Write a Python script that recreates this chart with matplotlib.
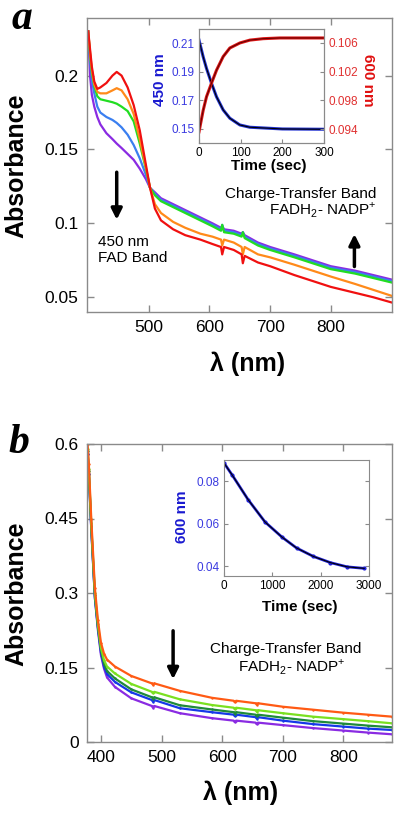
import matplotlib

matplotlib.use("Agg")

import matplotlib.pyplot as plt

plt.rcParams["font.family"] = ["Liberation Sans", "DejaVu Sans"]
plt.rcParams["mathtext.fontset"] = "custom"
plt.rcParams["mathtext.rm"] = "Liberation Sans"

# ---- panel a: spectra during reduction (absorbance vs wavelength) ----
wl_a = [400, 403, 406, 410, 415, 420, 430, 440, 447, 455, 465, 475, 485, 495, 502,
        510, 520, 540, 560, 585, 605, 619, 621, 624, 640, 653, 655, 658, 680, 700,
        740, 770, 800, 840, 870, 900]
abs_red = [0.230, 0.218, 0.206, 0.196, 0.191, 0.192, 0.195, 0.200, 0.2025, 0.200, 0.192, 0.180, 0.163, 0.140, 0.124,
           0.110, 0.102, 0.096, 0.092, 0.089, 0.086, 0.084, 0.079, 0.084, 0.082, 0.079, 0.073, 0.078, 0.0735, 0.071,
           0.065, 0.061, 0.057, 0.053, 0.050, 0.0465]
abs_orange = [0.230, 0.216, 0.204, 0.194, 0.189, 0.188, 0.188, 0.190, 0.1915, 0.190, 0.184, 0.174, 0.157, 0.138, 0.124,
              0.113, 0.107, 0.101, 0.097, 0.093, 0.091, 0.089, 0.085, 0.089, 0.087, 0.084, 0.079, 0.084, 0.079, 0.077,
              0.072, 0.068, 0.064, 0.059, 0.055, 0.051]
abs_green = [0.230, 0.214, 0.202, 0.193, 0.186, 0.184, 0.183, 0.182, 0.181, 0.179, 0.176, 0.169, 0.154, 0.137, 0.124,
             0.119, 0.115, 0.111, 0.107, 0.102, 0.098, 0.095, 0.099, 0.094, 0.093, 0.091, 0.094, 0.090, 0.085, 0.082,
             0.077, 0.073, 0.069, 0.066, 0.063, 0.060]
abs_blue = [0.230, 0.210, 0.197, 0.188, 0.179, 0.175, 0.172, 0.170, 0.168, 0.165, 0.160, 0.153, 0.144, 0.133, 0.124,
            0.120, 0.116, 0.112, 0.108, 0.103, 0.099, 0.096, 0.099, 0.095, 0.094, 0.092, 0.094, 0.091, 0.086, 0.083,
            0.078, 0.074, 0.070, 0.067, 0.064, 0.061]
abs_purple = [0.230, 0.200, 0.187, 0.179, 0.172, 0.167, 0.161, 0.157, 0.154, 0.151, 0.147, 0.143, 0.137, 0.130, 0.124,
              0.121, 0.117, 0.113, 0.109, 0.104, 0.100, 0.097, 0.098, 0.096, 0.095, 0.093, 0.094, 0.092, 0.087, 0.084,
              0.079, 0.075, 0.071, 0.068, 0.065, 0.062]

# inset a: kinetics at 450 nm (left axis) and 600 nm (right axis)
t_450 = [0, 10, 18, 30, 42, 58, 74, 98, 122, 200, 298]
abs_450 = [0.2121, 0.2004, 0.1923, 0.1819, 0.1725, 0.1633, 0.1575, 0.1528, 0.1512, 0.1500, 0.1498]
t_600 = [0, 10, 18, 30, 42, 58, 74, 98, 122, 154, 194, 298]
abs_600 = [0.0936, 0.0966, 0.0985, 0.1004, 0.1022, 0.1041, 0.1053, 0.1060, 0.1064, 0.1066, 0.1067, 0.1067]

# ---- panel b: spectra during re-oxidation ----
wl_b = [378, 380, 384, 390, 395, 400, 405, 410, 423, 450, 484, 486, 488, 530, 583,
        619, 621, 623, 655, 657, 659, 700, 750, 800, 840, 880]
absb_orange = [0.600, 0.560, 0.450, 0.310, 0.245, 0.200, 0.178, 0.166, 0.152, 0.133, 0.118, 0.115, 0.118, 0.103, 0.089,
               0.083, 0.080, 0.083, 0.078, 0.075, 0.078, 0.071, 0.065, 0.059, 0.055, 0.051]
absb_lgreen = [0.590, 0.550, 0.440, 0.300, 0.237, 0.190, 0.165, 0.152, 0.138, 0.117, 0.101, 0.098, 0.101, 0.086, 0.0745,
               0.069, 0.066, 0.069, 0.064, 0.061, 0.064, 0.058, 0.051, 0.046, 0.042, 0.0376]
absb_dgreen = [0.585, 0.545, 0.435, 0.295, 0.232, 0.185, 0.158, 0.143, 0.128, 0.106, 0.090, 0.087, 0.090, 0.074, 0.0655,
               0.060, 0.057, 0.060, 0.055, 0.052, 0.055, 0.049, 0.042, 0.037, 0.033, 0.0296]
absb_blue = [0.580, 0.540, 0.430, 0.290, 0.230, 0.180, 0.152, 0.137, 0.121, 0.100, 0.0845, 0.081, 0.0845, 0.068, 0.060,
             0.055, 0.052, 0.055, 0.050, 0.047, 0.050, 0.043, 0.036, 0.031, 0.027, 0.0242]
absb_purple = [0.580, 0.540, 0.430, 0.290, 0.225, 0.175, 0.148, 0.130, 0.111, 0.088, 0.0725, 0.069, 0.0725, 0.058, 0.048,
               0.043, 0.040, 0.043, 0.039, 0.036, 0.039, 0.034, 0.028, 0.023, 0.019, 0.0155]

# inset b: decay at 600 nm
t_b = [0, 170, 500, 850, 1200, 1500, 1850, 2200, 2550, 2900]
abs_600_b = [0.0885, 0.0828, 0.0712, 0.0607, 0.0536, 0.0485, 0.0445, 0.0416, 0.0396, 0.0389]

yticks_a = [0.05, 0.1, 0.15, 0.2]
yticklabels_a = ["0.05", "0.1", "0.15", "0.2"]
yticks_b = [0, 0.15, 0.3, 0.45, 0.6]
yticklabels_b = ["0", "0.15", "0.3", "0.45", "0.6"]
inset_a_left_ticks = [0.15, 0.17, 0.19, 0.21]
inset_a_right_ticks = [0.094, 0.098, 0.102, 0.106]
inset_b_ticks = [0.04, 0.06, 0.08]

FRAME = "#8a8a8a"


def style_axes(ax, size=12.5):
    for spine in ax.spines.values():
        spine.set_color(FRAME)
        spine.set_linewidth(1.0)
    ax.tick_params(direction="in", top=True, right=True, length=5, width=1.0,
                   color=FRAME, labelsize=size, pad=6)


fig = plt.figure(figsize=(4.0, 8.15), dpi=100)
W, H = 400, 815


def rect(x0, y0, x1, y1):
    return [x0 / W, 1 - y1 / H, (x1 - x0) / W, (y1 - y0) / H]


# ---------- panel a ----------
ax_a = fig.add_axes(rect(87, 18, 392, 312))
for vals, col in [(abs_purple, "#8a2be2"), (abs_blue, "#3a7ff0"), (abs_green, "#22dd22"),
                  (abs_orange, "#ff8a1a"), (abs_red, "#f01010")]:
    ax_a.plot(wl_a, vals, color=col, lw=1.6)
ax_a.set_xlim(398, 901)
ax_a.set_ylim(0.040, 0.239)
ax_a.set_xticks([500, 600, 700, 800])
ax_a.set_yticks(yticks_a)
ax_a.set_yticklabels(yticklabels_a)
style_axes(ax_a)

ax_a.annotate("", xy=(447, 0.1006), xytext=(447, 0.1365),
              arrowprops=dict(arrowstyle="-|>", lw=2.5, color="k", mutation_scale=16))
ax_a.annotate("", xy=(839, 0.0946), xytext=(839, 0.0689),
              arrowprops=dict(arrowstyle="-|>", lw=2.5, color="k", mutation_scale=16))
ax_a.text(416, 0.0918, "450 nm\nFAD Band", fontsize=11, ha="left", va="top", linespacing=1.1)
ax_a.text(876, 0.120, "Charge-Transfer Band", fontsize=11, ha="right", va="center")
ax_a.text(876, 0.1087, r"FADH$_\mathregular{2}$- NADP$^\mathregular{+}$", fontsize=11,
          ha="right", va="center")

# inset a
ax_ia = fig.add_axes(rect(199, 29, 324, 143))
ax_ia.plot(t_450, abs_450, color="#2030d0", lw=2.2)
ax_ia.plot(t_450, abs_450, color="black", lw=0.8)
ax_ia.set_xlim(0, 300)
ax_ia.set_ylim(0.1402, 0.2198)
ax_ia.set_xticks([0, 100, 200, 300])
ax_ia.set_yticks(inset_a_left_ticks)
ax_ia.set_yticklabels([f"{v:.2f}" for v in inset_a_left_ticks])
for spine in ax_ia.spines.values():
    spine.set_color(FRAME)
ax_ia.tick_params(direction="in", length=3, color=FRAME, labelsize=8.5, pad=3)
ax_ia.tick_params(axis="y", labelcolor="#3a3ae0")
ax_ir = ax_ia.twinx()
ax_ir.plot(t_600, abs_600, color="#dd1515", lw=2.2)
ax_ir.plot(t_600, abs_600, color="#660000", lw=0.8)
ax_ir.set_ylim(0.09205, 0.10795)
ax_ir.set_yticks(inset_a_right_ticks)
ax_ir.set_yticklabels([f"{v:.3f}" for v in inset_a_right_ticks])
for spine in ax_ir.spines.values():
    spine.set_color(FRAME)
ax_ir.tick_params(direction="in", length=3, color=FRAME, labelsize=8.5, pad=3, labelcolor="#e03030")

fig.text(160 / W, 1 - 80 / H, "450 nm", rotation=90, ha="center", va="center",
         fontsize=11, fontweight="bold", color="#1a1ad0")
fig.text(368 / W, 1 - 80 / H, "600 nm", rotation=270, ha="center", va="center",
         fontsize=11, fontweight="bold", color="#e01010")
fig.text(269 / W, 1 - 166 / H, "Time (sec)", ha="center", va="center", fontsize=11, fontweight="bold")

fig.text(16 / W, 1 - 166 / H, "Absorbance", rotation=90, ha="center", va="center",
         fontsize=18, fontweight="bold")
fig.text(248 / W, 1 - 364 / H, "λ (nm)", ha="center", va="center", fontsize=18, fontweight="bold")
fig.text(22 / W, 1 - 29 / H, "a", ha="center", va="baseline", fontsize=30,
         fontweight="bold", fontstyle="italic", family="Liberation Serif")

# ---------- panel b ----------
ax_b = fig.add_axes(rect(87, 444, 392, 742))
for vals, col in [(absb_purple, "#8a2be2"), (absb_blue, "#1538e8"), (absb_dgreen, "#1f8a3a"),
                  (absb_lgreen, "#7ae020"), (absb_orange, "#ff5a14")]:
    ax_b.plot(wl_b, vals, color=col, lw=1.6, marker=".", ms=1.5)
ax_b.set_xlim(377, 880)
ax_b.set_ylim(0, 0.6)
ax_b.set_xticks([400, 500, 600, 700, 800])
ax_b.set_yticks(yticks_b)
ax_b.set_yticklabels(yticklabels_b)
style_axes(ax_b)

ax_b.annotate("", xy=(519, 0.121), xytext=(519, 0.2295),
              arrowprops=dict(arrowstyle="-|>", lw=2.5, color="k", mutation_scale=16))
ax_b.text(704, 0.187, "Charge-Transfer Band", fontsize=11, ha="center", va="center")
ax_b.text(803, 0.151, r"FADH$_\mathregular{2}$- NADP$^\mathregular{+}$", fontsize=11,
          ha="right", va="center")

# inset b
ax_ib = fig.add_axes(rect(224, 460, 369, 576))
ax_ib.plot(t_b, abs_600_b, color="#2020d8", lw=2.0, marker="o", ms=2)
ax_ib.plot(t_b, abs_600_b, color="black", lw=0.8)
ax_ib.set_xlim(0, 2950)
ax_ib.set_ylim(0.0353, 0.0899)
ax_ib.set_xticks([0, 1000, 2000, 3000])
ax_ib.set_yticks(inset_b_ticks)
ax_ib.set_yticklabels([f"{v:.2f}" for v in inset_b_ticks])
for spine in ax_ib.spines.values():
    spine.set_color(FRAME)
ax_ib.tick_params(direction="in", right=True, length=3, color=FRAME, labelsize=8.5, pad=3)
ax_ib.tick_params(axis="y", labelcolor="#3a3ae0")
fig.text(182 / W, 1 - 517 / H, "600 nm", rotation=90, ha="center", va="center",
         fontsize=11, fontweight="bold", color="#1a1ad0")
fig.text(300 / W, 1 - 607 / H, "Time (sec)", ha="center", va="center", fontsize=11, fontweight="bold")

fig.text(16 / W, 1 - 594 / H, "Absorbance", rotation=90, ha="center", va="center",
         fontsize=18, fontweight="bold")
fig.text(241 / W, 1 - 793 / H, "λ (nm)", ha="center", va="center", fontsize=18, fontweight="bold")
fig.text(19 / W, 1 - 453 / H, "b", ha="center", va="baseline", fontsize=30,
         fontweight="bold", fontstyle="italic", family="Liberation Serif")

fig.savefig("out.png", dpi=100)
